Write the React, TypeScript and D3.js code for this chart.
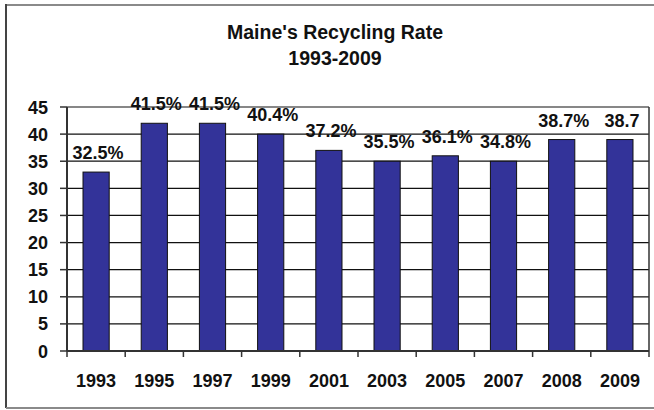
import React from 'react';
import * as d3 from 'd3';

// values
const years = ['1993', '1995', '1997', '1999', '2001', '2003', '2005', '2007', '2008', '2009'];
const barValues = [33, 42, 42, 40, 37, 35, 36, 35, 39, 39];
const rateLabels = ['32.5%', '41.5%', '41.5%', '40.4%', '37.2%', '35.5%', '36.1%', '34.8%', '38.7%', '38.7'];
const yTicks = [0, 5, 10, 15, 20, 25, 30, 35, 40, 45];
const titleLines = ["Maine's Recycling Rate", '1993-2009'];

const W = 654;
const H = 410;
const margin = { top: 107, right: 5, bottom: 59, left: 67 };
const font = '"Liberation Sans", Arial, sans-serif';

export default function App() {
  const plotW = W - margin.left - margin.right;
  const plotH = H - margin.top - margin.bottom;

  const x = d3.scaleBand()
    .domain(years)
    .range([margin.left, margin.left + plotW])
    .paddingInner(0.55)
    .paddingOuter(0.275);

  const y = d3.scaleLinear()
    .domain([0, 45])
    .range([margin.top + plotH, margin.top]);

  const step = x.step();
  const gap = (step - x.bandwidth()) / 2;
  const bounds = years.map(c => (x(c) as number) - gap).concat([margin.left + plotW]);

  const x0 = margin.left;
  const x1 = margin.left + plotW;

  return (
    <svg width={W} height={H} style={{ position: 'absolute', left: 0, top: 0, display: 'block', background: '#fff' }}>
      {/* outer frame */}
      <line x1={6} x2={W} y1={5} y2={5} stroke="#8a8a8a" strokeWidth={2} />
      <line x1={6} x2={6} y1={4} y2={408} stroke="#444" strokeWidth={2} />
      <line x1={6} x2={W} y1={408} y2={408} stroke="#8a8a8a" strokeWidth={2} />

      {/* title */}
      <g fontFamily={font} fontWeight="bold" fontSize={19.5} fill="#111" textAnchor="middle">
        <text x={335} y={39}>{titleLines[0]}</text>
        <text x={335} y={65}>{titleLines[1]}</text>
      </g>

      {/* gridlines */}
      {yTicks.filter(t => t > 0).map(t => (
        <line key={'g' + t} x1={x0} x2={x1} y1={y(t)} y2={y(t)} stroke="#111" strokeWidth={1.2} />
      ))}
      <line x1={x1} x2={x1} y1={y(45)} y2={y(0)} stroke="#333" strokeWidth={1.5} />

      {/* bars */}
      {years.map((c, i) => (
        <rect key={c} x={x(c)} y={y(barValues[i])} width={x.bandwidth()} height={y(0) - y(barValues[i])}
          fill="#333399" stroke="#111" strokeWidth={1} />
      ))}

      {/* axes */}
      <line x1={x0} x2={x0} y1={y(45)} y2={y(0)} stroke="#333" strokeWidth={2} />
      <line x1={x0} x2={x1} y1={y(0)} y2={y(0)} stroke="#333" strokeWidth={2} />
      {yTicks.map(t => (
        <line key={'yt' + t} x1={x0 - 7} x2={x0} y1={y(t)} y2={y(t)} stroke="#333" strokeWidth={1.5} />
      ))}
      {bounds.map((b, i) => (
        <line key={'xt' + i} x1={b} x2={b} y1={y(0)} y2={y(0) + 6} stroke="#333" strokeWidth={1.5} />
      ))}

      <g fontFamily={font} fontWeight="bold" fontSize={18} fill="#111">
        {yTicks.map(t => (
          <text key={'yl' + t} x={48} y={y(t) + 6.5} textAnchor="end">{t}</text>
        ))}
        {years.map(c => (
          <text key={'xl' + c} x={(x(c) as number) + x.bandwidth() / 2} y={386.5} textAnchor="middle">{c}</text>
        ))}
        {years.map((c, i) => (
          <text key={'dl' + c} x={(x(c) as number) + x.bandwidth() / 2 + 2} y={y(barValues[i]) - 13} textAnchor="middle">
            {rateLabels[i]}
          </text>
        ))}
      </g>
    </svg>
  );
}
